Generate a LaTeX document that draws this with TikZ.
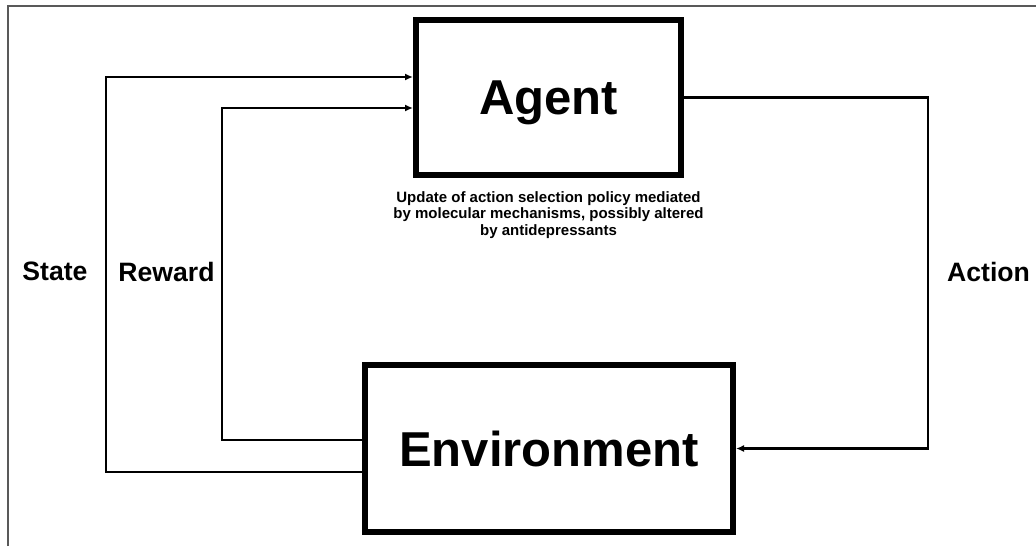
\documentclass[tikz,border=0pt]{standalone}
\usepackage{fontspec}
\setmainfont{Liberation Sans}
\usepackage{tikz}
\usetikzlibrary{arrows.meta,positioning,calc}
\tikzset{>={Latex[length=4pt,width=3.5pt]}}
\tikzset{
    block/.style={draw, line width=3pt, inner sep=0pt, text depth=0pt, font=\bfseries\fontsize{24.5}{28}\selectfont},
    loopname/.style={font=\bfseries\fontsize{13.3}{16}\selectfont},
    link/.style={->, line width=1.35pt}
}

\begin{document}
\begin{tikzpicture}[x=0.5pt, y=-0.5pt]
    \useasboundingbox (0,0) rectangle (1036,546);
    \draw[black!65, line width=0.6pt] (8,546) |- (1036,6);
    \node[block, minimum width=132.5pt, minimum height=77.5pt] (agent) at (548.5,97.5) {Agent};
    \node[block, minimum width=184pt, minimum height=83.5pt] (env) at (549,448.5) {Environment};
    \node[below=6.5pt of agent, inner sep=0pt, align=center, font=\bfseries\fontsize{7.5}{8.25}\selectfont] (note)
        {Update of action selection policy mediated\\by molecular mechanisms, possibly altered\\by antidepressants};
    \foreach \lname/\lx/\ltext in {state/55/State, reward/166.5/Reward, action/988.5/Action} {
        \node[loopname] (\lname) at (\lx,271.5) {\ltext};
    }
    \draw[link] ([yshift=-11.75pt]env.west) -- ++(-256,0) |- ([yshift=10.25pt]agent.west);
    \draw[link] ([yshift=4.25pt]env.west) -- ++(-140,0) |- ([yshift=-5.25pt]agent.west);
    \draw[link] (agent.east) -- ++(244,0) |- (env.east);
\end{tikzpicture}
\end{document}
